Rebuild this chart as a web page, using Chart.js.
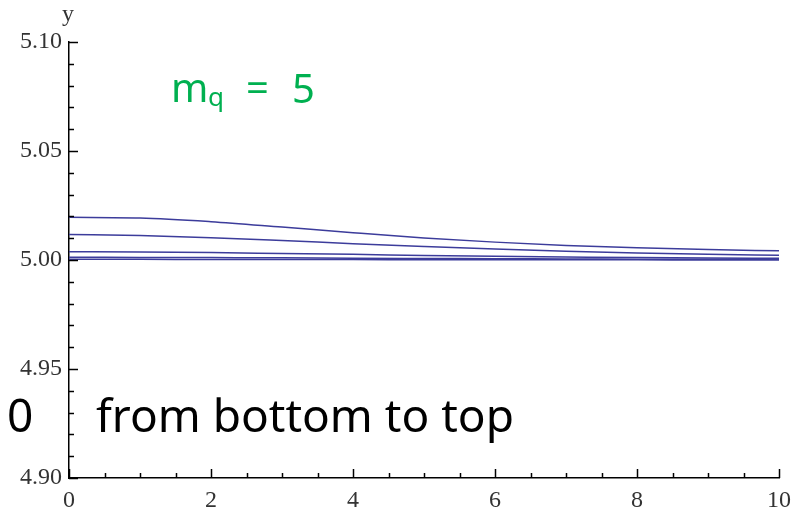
<!DOCTYPE html>
<html>
<head>
<meta charset="utf-8">
<script src="https://cdn.jsdelivr.net/npm/chart.js@4.4.1/dist/chart.umd.min.js"></script>
<style>
  html, body { margin: 0; padding: 0; background: #fff; }
  canvas { display: block; }
</style>
</head>
<body>
<canvas id="c" width="799" height="512"></canvas>
<script>
// ---- data ----
const xValues = [0, 1, 2, 3, 4, 5, 6, 7, 8, 9, 10];
const series1 = [5.0196, 5.0193, 5.0176, 5.0151, 5.0125, 5.0101, 5.0082, 5.0067, 5.0056, 5.0048, 5.0042];
const series2 = [5.0117, 5.0112, 5.0102, 5.0089, 5.0075, 5.0062, 5.0050, 5.0040, 5.0032, 5.0026, 5.0022];
const series3 = [5.0038, 5.0037, 5.0034, 5.0030, 5.0026, 5.0021, 5.0017, 5.0014, 5.0011, 5.0009, 5.0008];
const series4 = [5.0013, 5.0012, 5.0011, 5.0010, 5.0008, 5.0007, 5.0006, 5.0005, 5.0004, 5.0003, 5.0003];
const series5 = [5.0003, 5.0003, 5.0002, 5.0002, 5.0002, 5.0001, 5.0001, 5.0001, 5.0001, 5.0000, 5.0000];
const yTickLabels = ['4.90', '4.95', '5.00', '5.05', '5.10'];
const xTickLabels = ['0', '2', '4', '6', '8', '10'];
const yAxisTitle = 'y';
const annotationTop = { main: 'm', sub: 'q', eq: '=', val: '5' };
const annotationBottom = { left: '0', right: 'from bottom to top' };

const allSeries = [series1, series2, series3, series4, series5];
const lineColor = 'rgb(60,60,155)';

const datasets = allSeries.map(s => ({
  data: xValues.map((x, i) => ({ x: x, y: s[i] })),
  borderColor: lineColor,
  borderWidth: 1.5,
  pointRadius: 0,
  cubicInterpolationMode: 'monotone',
  fill: false
}));

const serif = '"Liberation Serif", "DejaVu Serif", serif';
const sans = '"Noto Sans", "Open Sans", sans-serif';

const decorPlugin = {
  id: 'decor',
  afterDraw(chart) {
    const ctx = chart.ctx;
    const xs = chart.scales.x, ys = chart.scales.y;
    const ca = chart.chartArea;
    ctx.save();
    ctx.strokeStyle = '#000';
    ctx.lineWidth = 1.5;
    // inward ticks on y axis
    for (let k = 0; k <= 20; k++) {
      const v = 4.90 + k * 0.01;
      const py = Math.round(ys.getPixelForValue(v)) + 0.5;
      const len = (k % 5 === 0) ? 9 : 5;
      ctx.beginPath();
      ctx.moveTo(ca.left, py);
      ctx.lineTo(ca.left + len, py);
      ctx.stroke();
    }
    // inward ticks on x axis
    for (let k = 0; k <= 20; k++) {
      const v = k * 0.5;
      const px = Math.round(xs.getPixelForValue(v)) + 0.5;
      const len = (k % 4 === 0) ? 9 : 5;
      ctx.beginPath();
      ctx.moveTo(px, ca.bottom);
      ctx.lineTo(px, ca.bottom - len);
      ctx.stroke();
    }
    // y axis title
    ctx.fillStyle = '#333';
    ctx.font = '24px ' + serif;
    ctx.textAlign = 'center';
    ctx.textBaseline = 'alphabetic';
    ctx.fillText(yAxisTitle, ca.left - 1, 21);

    // green annotation
    ctx.textAlign = 'left';
    ctx.fillStyle = '#00b050';
    ctx.font = '40px ' + sans;
    ctx.fillText(annotationTop.main, 171, 102);
    ctx.font = '26px ' + sans;
    ctx.fillText(annotationTop.sub, 208, 106);
    ctx.font = '40px ' + sans;
    ctx.fillText(annotationTop.eq, 246, 102);
    ctx.fillText(annotationTop.val, 292, 103);

    // black annotation
    ctx.fillStyle = '#000';
    ctx.font = '46px ' + sans;
    ctx.fillText(annotationBottom.left, 7, 432);
    ctx.fillText(annotationBottom.right, 96, 432);
    ctx.restore();
  }
};

new Chart(document.getElementById('c'), {
  type: 'line',
  data: { datasets },
  options: {
    responsive: false,
    devicePixelRatio: 1,
    animation: false,
    layout: { padding: { left: 0, top: 42, right: 20, bottom: 0 } },
    plugins: { legend: { display: false }, tooltip: { enabled: false } },
    scales: {
      x: {
        type: 'linear',
        min: 0, max: 10,
        grid: { display: false, drawTicks: false },
        border: { display: true, color: '#000', width: 1.5 },
        ticks: {
          stepSize: 2,
          autoSkip: false,
          maxRotation: 0,
          padding: 8,
          color: '#333',
          font: { family: serif, size: 24 },
          callback: (v) => {
            const s = String(Math.round(v));
            return xTickLabels.includes(s) ? s : '';
          }
        },
        afterFit: (s) => { s.height = 34; }
      },
      y: {
        type: 'linear',
        min: 4.90, max: 5.10,
        grid: { display: false, drawTicks: false },
        border: { display: true, color: '#000', width: 1.5 },
        ticks: {
          stepSize: 0.05,
          autoSkip: false,
          padding: 7,
          color: '#333',
          font: { family: serif, size: 24 },
          callback: (v) => {
            const s = Number(v).toFixed(2);
            return yTickLabels.includes(s) ? s : '';
          }
        },
        afterFit: (s) => { s.width = 69; }
      }
    }
  },
  plugins: [decorPlugin]
});
</script>
</body>
</html>
